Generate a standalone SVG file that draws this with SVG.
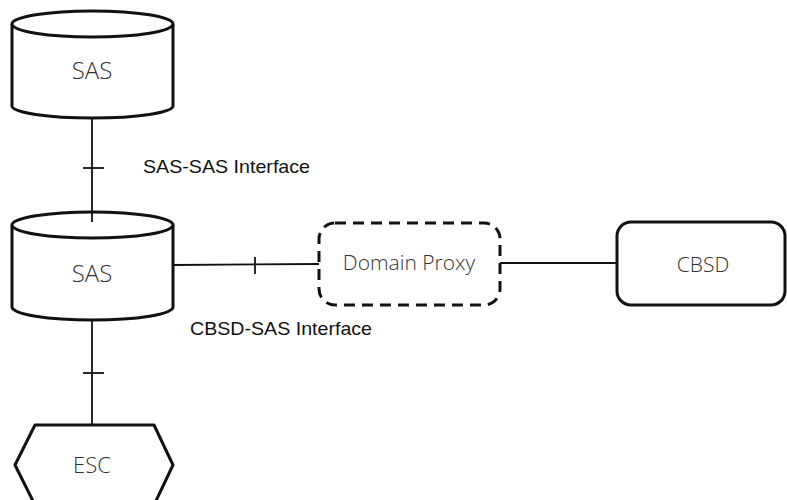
<svg xmlns="http://www.w3.org/2000/svg" width="787" height="500" viewBox="0 0 787 500">
  <style>
    .shape { fill: #ffffff; stroke: #111111; stroke-width: 3; stroke-linejoin: round; }
    .dashed { fill: #ffffff; stroke: #111111; stroke-width: 3; stroke-dasharray: 11 7; }
    .conn { fill: none; stroke: #111111; stroke-width: 1.8; }
    .node-label { font-family: "Open Sans", "Noto Sans", sans-serif; font-weight: 300; fill: #333333; text-anchor: middle; }
    .if-label { font-family: "Liberation Sans", Arial, sans-serif; font-size: 18.5px; fill: #111111; }
  </style>
  <rect width="787" height="500" fill="#ffffff"/>

  <!-- connectors with tick marks -->
  <g id="connectors">
    <line class="conn" x1="92" y1="118" x2="92" y2="222"/>
    <line class="conn" x1="83" y1="168" x2="104" y2="168"/>
    <line class="conn" x1="92" y1="320" x2="92" y2="425"/>
    <line class="conn" x1="83" y1="373" x2="104" y2="373"/>
    <line class="conn" x1="173" y1="265" x2="319" y2="264"/>
    <line class="conn" x1="255" y1="257" x2="255" y2="274"/>
    <line class="conn" x1="500" y1="263" x2="617" y2="263"/>
  </g>

  <!-- upper SAS cylinder -->
  <g id="sas-top">
    <path class="shape" d="M12,24 L12,106 A80.5,12 0 0 0 173,106 L173,24"/>
    <ellipse class="shape" cx="92.5" cy="24" rx="80.5" ry="13"/>
    <text class="node-label" x="92" y="79" font-size="24">SAS</text>
  </g>

  <!-- lower SAS cylinder -->
  <g id="sas-main">
    <path class="shape" d="M12,225 L12,307 A80.5,13 0 0 0 173,307 L173,225"/>
    <ellipse class="shape" cx="92.5" cy="225" rx="80.5" ry="13"/>
    <line class="conn" x1="92" y1="212" x2="92" y2="222"/>
    <text class="node-label" x="92" y="282" font-size="24">SAS</text>
  </g>

  <!-- ESC hexagon -->
  <g id="esc">
    <polygon class="shape" points="35,425 154,425 173,465 154,505 35,505 15,465"/>
    <text class="node-label" x="92" y="473" font-size="22">ESC</text>
  </g>

  <!-- Domain Proxy -->
  <g id="domain-proxy">
    <rect class="dashed" x="319" y="223" width="181" height="82" rx="16"/>
    <text class="node-label" x="409" y="270" font-size="21">Domain Proxy</text>
  </g>

  <!-- CBSD -->
  <g id="cbsd">
    <rect class="shape" x="617" y="222" width="168" height="83" rx="14"/>
    <text class="node-label" x="703" y="272" font-size="21">CBSD</text>
  </g>

  <!-- interface labels -->
  <g id="labels">
    <text class="if-label" x="143" y="173" textLength="167" lengthAdjust="spacingAndGlyphs">SAS-SAS Interface</text>
    <text class="if-label" x="190" y="335" textLength="182" lengthAdjust="spacingAndGlyphs">CBSD-SAS Interface</text>
  </g>
</svg>
